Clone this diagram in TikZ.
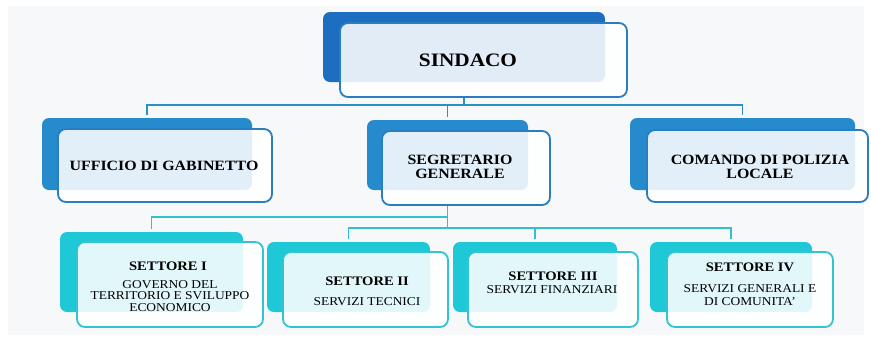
\documentclass[tikz,border=0pt]{standalone}
\usepackage{fontspec}
\setmainfont[FakeStretch=1.12]{Liberation Serif}
\usepackage{tikz}
\usetikzlibrary{calc}
\definecolor{sfondo}{HTML}{F7F8F9}
\definecolor{blusc}{HTML}{1D6EC1}
\definecolor{blu}{HTML}{258BCD}
\definecolor{bordoblu}{HTML}{2A7DC0}
\definecolor{ciano}{HTML}{1EC8D6}
\definecolor{bordociano}{HTML}{33C3D1}
\definecolor{lineablu}{HTML}{2C90C8}
\definecolor{lineaciano}{HTML}{30C1CF}

\begin{document}
\begin{tikzpicture}[x=1pt,y=-1pt,
	dietro/.style={fill=#1, rounded corners=7pt, inner sep=0pt},
	davanti/.style={draw=#1, line width=1.8pt, fill=white, fill opacity=0.87, rounded corners=8pt, inner sep=0pt},
	linkA/.style={draw=lineablu, line width=1.6pt},
	linkB/.style={draw=lineaciano, line width=1.6pt},
	titolo/.style={font=\fontsize{14.2}{13.5}\selectfont\bfseries, align=center, inner sep=0pt},
	settore/.style={font=\fontsize{13}{13}\selectfont\bfseries, inner sep=0pt},
	sotto/.style={font=\fontsize{12}{#1}\selectfont, align=center, inner sep=0pt},
	sotto/.default=11.5]
		%%%%% START %%%%%
		
		\useasboundingbox (0,0) rectangle (871,341);
		\fill[white] (0,0) rectangle (871,341);
		\fill[sfondo] (8,6) rectangle (864,335);
		
		%%%%% SINDACO %%%%%
		\node[dietro=blusc, minimum width=282pt, minimum height=70pt] (sindB) at (464,47) {};
		\node[davanti=bordoblu, minimum width=287pt, minimum height=74pt] (sind) at (483.5,60) {};
		\node[inner sep=0pt, font=\fontsize{19}{20}\selectfont\bfseries] (sindT) at (468,60) {SINDACO};
		
		%%%%% SECONDA FILA %%%%%
		\node[dietro=blu, minimum width=210pt, minimum height=72pt] (uffB) at (147,154) {};
		\node[davanti=bordoblu, minimum width=214pt, minimum height=73pt] (uff) at (165,165.5) {};
		\node[titolo] (uffT) at (164,166) {UFFICIO DI GABINETTO};
		
		\node[dietro=blu, minimum width=161pt, minimum height=70pt] (segB) at (447.5,155) {};
		\node[davanti=bordoblu, minimum width=168pt, minimum height=74pt] (seg) at (466,168) {};
		\node[titolo] (segT) at (460,167) {SEGRETARIO\\GENERALE};
		
		\node[dietro=blu, minimum width=225pt, minimum height=72pt] (comB) at (742.5,154) {};
		\node[davanti=bordoblu, minimum width=221pt, minimum height=72pt] (com) at (757.5,166) {};
		\node[titolo] (comT) at (760,167) {COMANDO DI POLIZIA\\LOCALE};
		
		%%%%% SETTORI %%%%%
		\node[dietro=ciano, minimum width=183pt, minimum height=80pt] (setIB) at (151.5,272) {};
		\node[davanti=bordociano, minimum width=186pt, minimum height=85pt] (setI) at (170,284.5) {};
		\node[settore] (setIT) at (168,266) {SETTORE I};
		\node[sotto] (setIS) at (170,296) {GOVERNO DEL\\TERRITORIO E SVILUPPO\\ECONOMICO};
		
		\node[dietro=ciano, minimum width=163pt, minimum height=70pt] (setIIB) at (348.5,277) {};
		\node[davanti=bordociano, minimum width=165pt, minimum height=75pt] (setII) at (365.5,289.5) {};
		\node[settore] (setIIT) at (367,281) {SETTORE II};
		\node[sotto] (setIIS) at (367,301.5) {SERVIZI TECNICI};
		
		\node[dietro=ciano, minimum width=164pt, minimum height=70pt] (setIIIB) at (535,277) {};
		\node[davanti=bordociano, minimum width=170pt, minimum height=75pt] (setIII) at (553,289.5) {};
		\node[settore] (setIIIT) at (553,276.5) {SETTORE III};
		\node[sotto] (setIIIS) at (552,289.5) {SERVIZI FINANZIARI};
		
		\node[dietro=ciano, minimum width=162pt, minimum height=70pt] (setIVB) at (731,277) {};
		\node[davanti=bordociano, minimum width=166pt, minimum height=75pt] (setIV) at (750,289.5) {};
		\node[settore] (setIVT) at (750,267.5) {SETTORE IV};
		\node[sotto=12.5] (setIVS) at (750,295) {SERVIZI GENERALI E\\DI COMUNITA'};
		
		%%%%% COLLEGAMENTI %%%%%
		\coordinate (busA) at (0,105);
		\coordinate (busB) at (0,217);
		\coordinate (busC) at (0,228);
		
		\draw[linkA] (sindB.center |- sind.south) -- (sindB.center |- busA);
		\draw[linkA] ([yshift=3pt]uffB.north) -- (uffB.north |- busA) -- (comB.north |- busA) -- ([yshift=3pt]comB.north);
		\draw[linkA] (segB.north |- busA) -- ([yshift=3pt]segB.north);
		
		\draw[linkB] (segB.center |- seg.south) -- (segB.center |- busC);
		\draw[linkB] ([yshift=3pt]setIB.north) -- (setIB.north |- busB) -- (segB.center |- busB);
		\draw[linkB] ([yshift=3pt]setIIB.north) -- (setIIB.north |- busC) -- (setIVB.north |- busC) -- ([yshift=3pt]setIVB.north);
		\draw[linkB] (setIIIB.north |- busC) -- ([yshift=3pt]setIIIB.north);
		
		%%%%% END %%%%%
\end{tikzpicture}
\end{document}
